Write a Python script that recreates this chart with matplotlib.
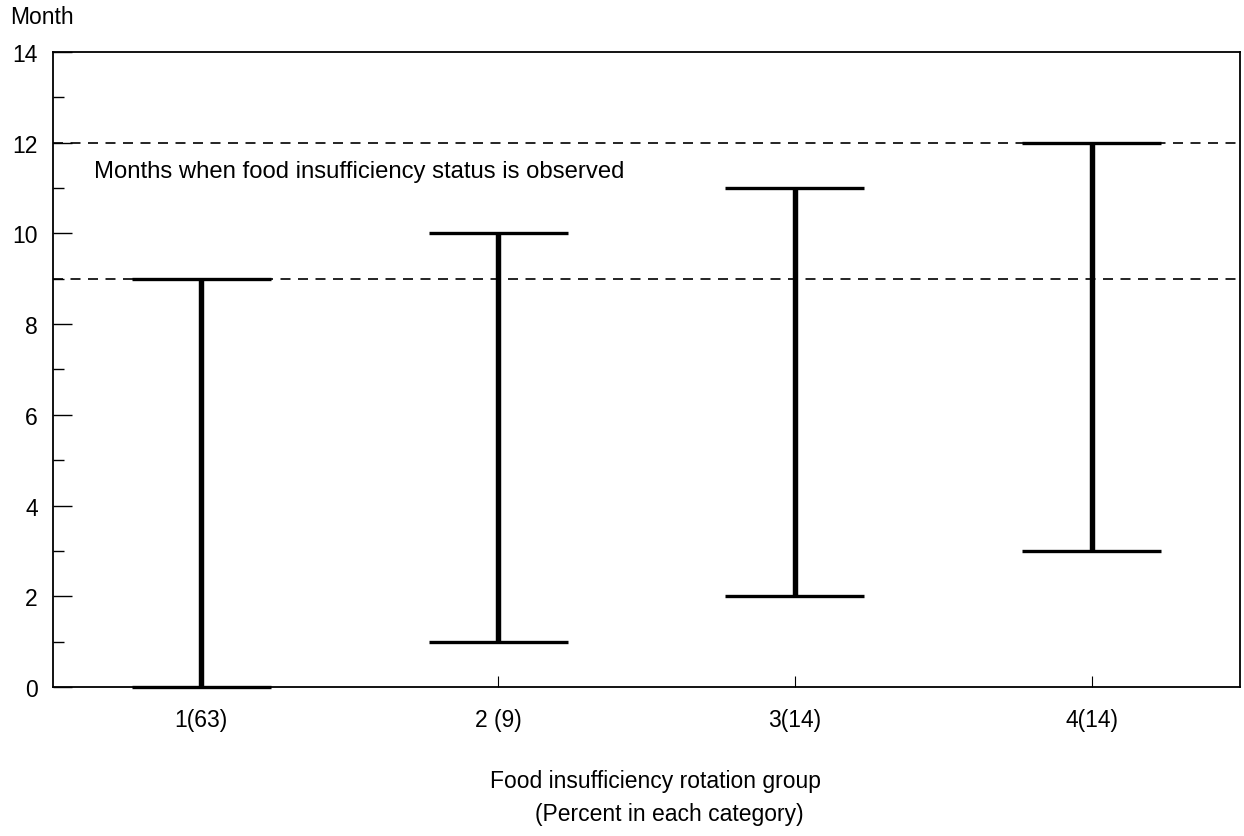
import numpy as np
import matplotlib.pyplot as plt

plt.rcParams['font.family'] = ['Liberation Sans', 'DejaVu Sans']

# data
grupe = [1, 2, 3, 4]
etichete = ["1(63)", "2 (9)", "3(14)", "4(14)"]
luna_start = [0, 1, 2, 3]
luna_final = [9, 10, 11, 12]
linii_ref = [9, 12]

fig = plt.figure(figsize=(12.44, 8.37), dpi=100)
ax = fig.add_axes([0.0426, 0.178, 0.9542, 0.7587])

# linii orizontale punctate
for y in linii_ref:
    ax.axhline(y, color="black", lw=1.2, ls=(0, (6, 4.5)), zorder=1)

# intervale (bara verticala + capete)
ax.vlines(grupe, luna_start, luna_final, color="black", lw=3.9, zorder=3)
jum = 0.234
x = np.array(grupe)
ax.hlines(luna_start, x - jum, x + jum, color="black", lw=2.4, zorder=3, clip_on=False)
ax.hlines(luna_final, x - jum, x + jum, color="black", lw=2.4, zorder=3, clip_on=False)

ax.set_xlim(0.5, 4.5)
ax.set_ylim(0, 14)
ax.set_xticks(grupe)
ax.set_xticklabels(etichete)
ax.set_yticks(range(0, 15, 2))
ax.set_yticks(range(1, 14, 2), minor=True)

ax.tick_params(axis="y", which="major", direction="in", length=14, width=1, labelsize=16.5, pad=11)
ax.tick_params(axis="y", which="minor", direction="in", length=8, width=1)
ax.tick_params(axis="x", which="major", direction="in", length=8, width=0.8, labelsize=16.5, pad=15)

for s in ax.spines.values():
    s.set_linewidth(1.3)

ax.text(0.637, 11.38, "Months when food insufficiency status is observed", fontsize=17.2, va="center", ha="left")

fig.text(10 / 1244, 1 - 18 / 837, "Month", fontsize=16.5, va="center", ha="left")
fig.text(656 / 1244, 1 - 782 / 837, "Food insufficiency rotation group", fontsize=16.5, va="center", ha="center")
fig.text(669 / 1244, 1 - 815 / 837, "(Percent in each category)", fontsize=16.5, va="center", ha="center")

fig.savefig("out.png", dpi=100)
